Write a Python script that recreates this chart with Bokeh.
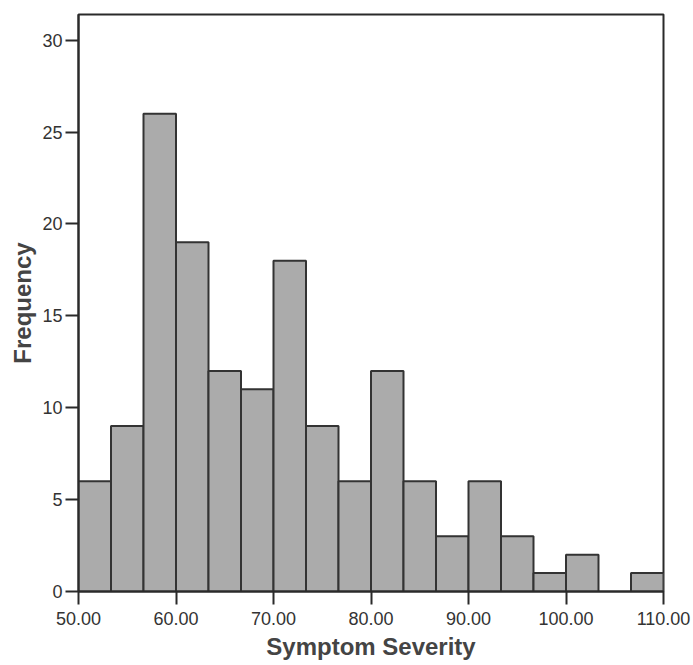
from bokeh.plotting import figure
from bokeh.models import FixedTicker, NumeralTickFormatter, Range1d
from bokeh.embed import file_html
from bokeh.resources import INLINE

# Histogram data: bin edges (Symptom Severity) and counts
bin_width = 60.0 / 18
bin_left = [50 + i * bin_width for i in range(18)]
counts = [6, 9, 26, 19, 12, 11, 18, 9, 6, 12, 6, 3, 6, 3, 1, 2, 0, 1]
x_ticks = [50, 60, 70, 80, 90, 100, 110]
y_ticks = [0, 5, 10, 15, 20, 25, 30]

bin_right = [l + bin_width for l in bin_left]

p = figure(width=693, height=665, output_backend="svg", toolbar_location=None,
           x_range=Range1d(50, 110), y_range=Range1d(0, 31.4),
           min_border_left=78, min_border_right=30, min_border_top=14,
           min_border_bottom=74)
p.background_fill_color = "white"
p.border_fill_color = "white"
p.outline_line_color = "#2a2a2a"
p.outline_line_width = 2
p.grid.visible = False

nz = [i for i, c in enumerate(counts) if c > 0]
p.quad(left=[bin_left[i] for i in nz], right=[bin_right[i] for i in nz],
       bottom=0, top=[counts[i] for i in nz],
       fill_color="#ababab", line_color="#333333", line_width=2)

for ax in (p.xaxis[0], p.yaxis[0]):
    ax.axis_line_color = "#2a2a2a"
    ax.axis_line_width = 2
    ax.major_tick_line_color = "#2a2a2a"
    ax.major_tick_line_width = 2
    ax.major_tick_in = 0
    ax.major_tick_out = 13
    ax.minor_tick_line_color = None
    ax.major_label_text_font = "Liberation Sans"
    ax.major_label_text_font_size = "18px"
    ax.major_label_text_color = "#333333"
    ax.axis_label_text_font = "Liberation Sans"
    ax.axis_label_text_font_style = "bold"
    ax.axis_label_text_font_size = "24px"
    ax.axis_label_text_color = "#444444"

p.xaxis.ticker = FixedTicker(ticks=x_ticks)
p.xaxis.formatter = NumeralTickFormatter(format="0.00")
p.xaxis.axis_label = "Symptom Severity"
p.xaxis.major_label_standoff = 7
p.xaxis.axis_label_standoff = 5

p.yaxis.ticker = FixedTicker(ticks=y_ticks)
p.yaxis.axis_label = "Frequency"
p.yaxis.major_label_standoff = 3
p.yaxis.axis_label_standoff = 3

open("out.html", "w").write(file_html(p, INLINE))
